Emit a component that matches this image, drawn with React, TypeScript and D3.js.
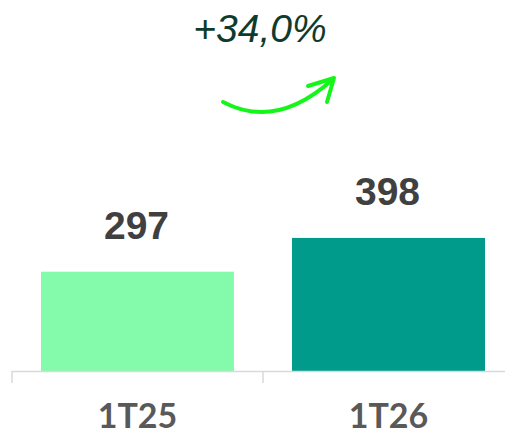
import React from "react";
import * as d3 from "d3";

const categories = ["1T25", "1T26"];
const values = [297, 398];
const barColors = ["#84fbaa", "#009b8a"];
const growthLabel = "+34,0%";

const W = 505;
const H = 435;

export default function App() {
  const x = d3.scaleBand<string>().domain(categories).range([12, 514]).paddingInner(0.231).paddingOuter(0.1155);
  const y = d3.scaleLinear().domain([0, 400]).range([371, 371 - 400 * 0.3344]);
  const step = x.step();
  const ticks = [12, 12 + step, 12 + 2 * step];

  const p = d3.path();
  p.moveTo(223, 102);
  p.quadraticCurveTo(276, 130, 332, 80);
  const head = d3.path();
  head.moveTo(308, 86);
  head.lineTo(334, 78);
  head.lineTo(327, 102);

  return (
    <svg width={W} height={H} style={{ position: "absolute", left: 0, top: 0 }}>
      <rect width={W} height={H} fill="#ffffff" />
      {categories.map((c, i) => (
        <rect key={c} x={x(c)} y={y(values[i])} width={x.bandwidth()} height={y(0) - y(values[i])} fill={barColors[i]} />
      ))}
      <line x1={12} x2={W} y1={371.5} y2={371.5} stroke="#d9d9d9" strokeWidth={1.5} />
      {ticks.map((t, i) => (
        <line key={i} x1={t} x2={t} y1={371} y2={383} stroke="#d9d9d9" strokeWidth={1.5} />
      ))}
      {categories.map((c, i) => (
        <text key={c} x={(x(c) as number) + x.bandwidth() / 2 - 1} y={y(values[i]) - 33} textAnchor="middle"
          fontFamily="Liberation Sans, Arial, sans-serif" fontWeight="bold" fontSize={39} fill="#404040">
          {values[i]}
        </text>
      ))}
      {categories.map((c) => (
        <text key={c} x={(x(c) as number) + x.bandwidth() / 2} y={427.5} textAnchor="middle"
          fontFamily="Lato, sans-serif" fontWeight="bold" fontSize={34} fill="#595959">
          {c}
        </text>
      ))}
      <text x={260} y={42} textAnchor="middle" fontFamily="Liberation Sans, Arial, sans-serif" fontStyle="italic"
        fontSize={39} fill="#0e3b2e">
        {growthLabel}
      </text>
      <path d={p.toString()} fill="none" stroke="#14f51a" strokeWidth={4} strokeLinecap="round" />
      <path d={head.toString()} fill="none" stroke="#14f51a" strokeWidth={4} strokeLinecap="round" strokeLinejoin="round" />
    </svg>
  );
}
